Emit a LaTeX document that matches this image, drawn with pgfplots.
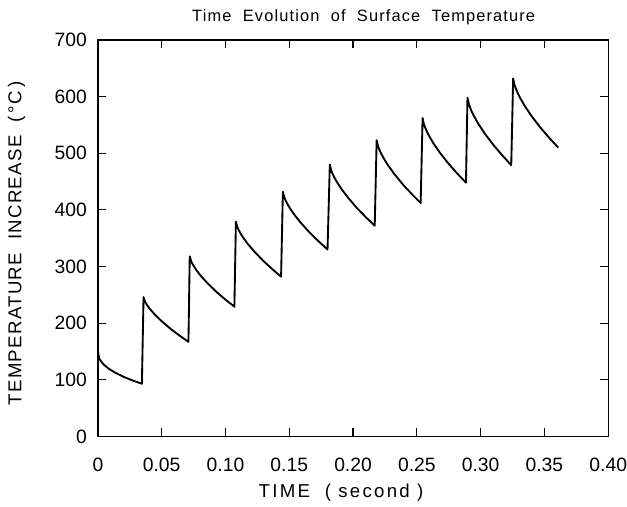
\documentclass[border=0pt]{standalone}
\usepackage{pgfplots}
\pgfplotsset{compat=1.18}
\usepackage{fontspec}
\setmainfont{Liberation Sans}
\newfontfamily\spaced[LetterSpace=12]{Liberation Sans}
\newfontfamily\yspaced[LetterSpace=7]{Liberation Sans}
\newfontfamily\tspaced[LetterSpace=7]{Liberation Sans}
\begin{document}
\begin{tikzpicture}
\begin{axis}[
  name=ax,
  scale only axis,
  width=383.25pt, height=297.75pt,
  xmin=0, xmax=0.40, ymin=0, ymax=700,
  axis line style={line width=1pt},
  every tick/.style={black, line width=0.9pt},
  major tick length=6pt,
  tick align=inside,
  xtick={0,0.05,0.10,0.15,0.20,0.25,0.30,0.35,0.40},
  xticklabels={0,0.05,0.10,0.15,0.20,0.25,0.30,0.35,0.40},
  ytick={0,100,200,300,400,500,600,700},
  /pgf/number format/assume math mode=true,
  tick label style={font=\fontsize{14.5}{16}\selectfont},
  xticklabel style={anchor=center, yshift=-21.5pt, inner sep=0pt},
  yticklabel style={anchor=east, xshift=-8pt, inner sep=0pt},
  every axis y label/.style={at={(rel axis cs:0,0.5)}, xshift=-61pt, yshift=-4pt, rotate=90, anchor=center, font=\yspaced\fontsize{14}{15}\selectfont},
  every axis x label/.style={at={(rel axis cs:0.5,0)}, xshift=-9pt, yshift=-42.5pt, anchor=center, font=\spaced\fontsize{14}{15}\selectfont},
  every axis title/.style={at={(rel axis cs:0.5,1)}, xshift=8pt, yshift=17pt, anchor=center, font=\tspaced\fontsize{12.3}{14}\selectfont},
  xlabel={TIME\ \ (\ second\ )},
  ylabel={TEMPERATURE\ \ INCREASE\ \ (\,°C\,)},
  title={Time\ \ Evolution\ \ of\ \ Surface\ \ Temperature},
]
\addplot[black, line width=1.4pt, line join=round] coordinates {
(0,150) (0.00104,138.3) (0.00207,133.9) (0.00345,129.8) (0.00518,125.7) (0.0086,119.4) (0.0138,112.3) (0.0207,104.7) (0.0276,98.5) (0.0345,93)
(0.0358,246) (0.03686,238.7) (0.03791,234.3) (0.03932,229.5) (0.04108,224.3) (0.0446,215.2) (0.04988,203.7) (0.05692,190.1) (0.06396,178.1) (0.0710,167)
(0.0720,318) (0.07305,309.8) (0.0741,304.8) (0.0755,299.4) (0.07725,293.5) (0.08075,283.3) (0.086,270.3) (0.093,255.1) (0.100,241.5) (0.1070,229)
(0.1082,379) (0.10926,370.1) (0.11032,364.6) (0.11174,358.7) (0.11351,352.3) (0.11705,341.2) (0.12236,327) (0.12944,310.4) (0.13652,295.7) (0.1436,282)
(0.1450,432) (0.14605,422.6) (0.1471,416.9) (0.1485,410.7) (0.15025,403.9) (0.15375,392.2) (0.159,377.3) (0.166,359.9) (0.173,344.4) (0.1800,330)
(0.1818,480) (0.18286,470.1) (0.18391,464) (0.18532,457.4) (0.18708,450.3) (0.1906,437.9) (0.19588,422.1) (0.20292,403.6) (0.20996,387.2) (0.2170,372)
(0.2185,523) (0.21954,512.8) (0.22057,506.6) (0.22195,499.8) (0.22368,492.5) (0.22713,479.7) (0.2323,463.5) (0.2392,444.5) (0.2461,427.7) (0.2530,412)
(0.2545,562) (0.25552,551.5) (0.25654,545.1) (0.2579,538.2) (0.2596,530.6) (0.2630,517.5) (0.2681,500.9) (0.2749,481.4) (0.2817,464.1) (0.2885,448)
(0.2897,598) (0.29073,587.1) (0.29176,580.4) (0.2931,573.1) (0.29485,565.3) (0.29828,551.6) (0.30342,534.2) (0.31028,513.9) (0.31714,495.8) (0.3240,479)
(0.3255,632) (0.32656,620.8) (0.32762,613.9) (0.32903,606.5) (0.3308,598.4) (0.33433,584.4) (0.33962,566.6) (0.34668,545.7) (0.35374,527.2) (0.3608,510)
};
\end{axis}
\path ([shift={(-73.5pt,-49.5pt)}]ax.south west) rectangle ([shift={(13.5pt,30pt)}]ax.north east);
\end{tikzpicture}
\end{document}
